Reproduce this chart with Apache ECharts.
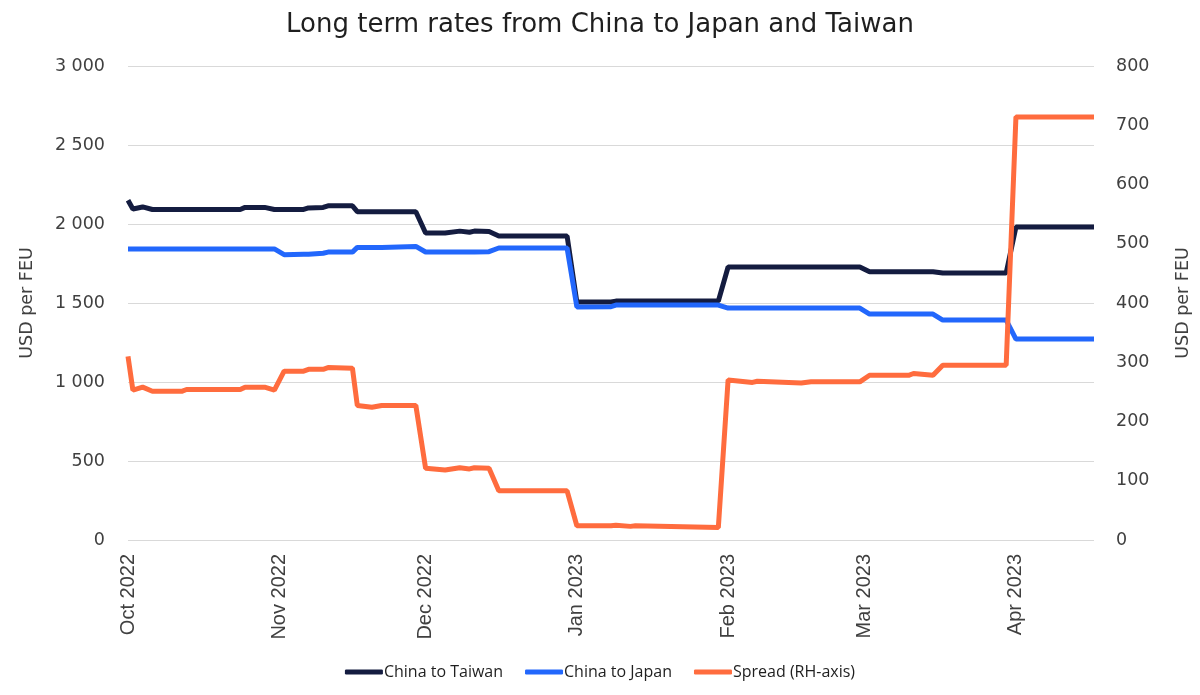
<!DOCTYPE html>
<html>
<head>
<meta charset="utf-8">
<script src="https://cdn.jsdelivr.net/npm/echarts@6/dist/echarts.min.js"></script>
<style>
html,body{margin:0;padding:0;background:#fff;}
#chart{width:1200px;height:695px;}
</style>
</head>
<body>
<div id="chart"></div>
<script>
const dates = ["2022-10-01","2022-10-02","2022-10-04","2022-10-06","2022-10-12","2022-10-13","2022-10-24","2022-10-25","2022-10-29","2022-10-31",
"2022-11-02","2022-11-06","2022-11-07","2022-11-10","2022-11-11","2022-11-16","2022-11-17","2022-11-20","2022-11-22","2022-11-29",
"2022-12-01","2022-12-05","2022-12-08","2022-12-10","2022-12-11","2022-12-14","2022-12-16","2022-12-30",
"2023-01-01","2023-01-08","2023-01-09","2023-01-12","2023-01-13","2023-01-30",
"2023-02-01","2023-02-06","2023-02-07","2023-02-16","2023-02-18","2023-02-28",
"2023-03-02","2023-03-10","2023-03-11","2023-03-15","2023-03-17","2023-03-30",
"2023-04-01","2023-04-17"];
const chinaTaiwan = [2150,2095,2108,2092,2092,2092,2092,2105,2105,2092,
2092,2092,2102,2105,2115,2115,2078,2078,2078,2078,
1943,1943,1955,1948,1955,1952,1924,1924,
1506,1506,1512,1512,1512,1512,
1728,1728,1728,1728,1728,1728,
1698,1698,1698,1698,1690,1690,
1981,1981];
const chinaJapan = [1842,1842,1842,1842,1842,1842,1842,1842,1842,1842,
1806,1808,1808,1815,1822,1822,1852,1852,1852,1858,
1823,1823,1823,1823,1823,1825,1848,1848,
1475,1477,1487,1487,1487,1487,
1468,1468,1468,1468,1468,1468,
1430,1430,1430,1430,1392,1392,
1272,1272];
const spread = [310,253,258,251,251,254,254,258,258,253,
285,285,288,288,291,290,227,224,227,227,
121,118,122,120,122,121,83,83,
24,24,25,23,24,21,
270,266,268,265,267,267,
278,278,281,278,295,295,
714,714];
const monthTicks = ["2022-10-01","2022-11-01","2022-12-01","2023-01-01","2023-02-01","2023-03-01","2023-04-01"];
const monthNames = ["Jan","Feb","Mar","Apr","May","Jun","Jul","Aug","Sep","Oct","Nov","Dec"];
const xMin = "2022-10-01", xMax = "2023-04-17";

const FONT = "Open Sans";
const NUMFONT = "DejaVu Sans";
const ts = d => Date.UTC(+d.slice(0,4), +d.slice(5,7)-1, +d.slice(8,10));
const toPairs = arr => dates.map((d,i)=>[ts(d), arr[i]]);
const fmtThousands = v => { const s = String(v); return s.length > 3 ? s.slice(0, s.length-3) + " " + s.slice(-3) : s; };

const chart = echarts.init(document.getElementById('chart'));
chart.setOption({
  animation:false,
  backgroundColor:'#fff',
  textStyle:{fontFamily:FONT},
  title:{
    text:'Long term rates from China to Japan and Taiwan',
    left:'center', top:7,
    textStyle:{fontFamily:NUMFONT,fontSize:26,fontWeight:'normal',color:'#1f1f1f'}
  },
  legend:{
    bottom:10, left:'center',
    itemWidth:38, itemHeight:5, itemGap:22,
    icon:'roundRect',
    textStyle:{fontFamily:FONT,fontSize:16,color:'#1f1f1f',padding:[0,0,0,-4]},
    data:['China to Taiwan','China to Japan','Spread (RH-axis)']
  },
  grid:{left:128,right:106,top:66,bottom:155,containLabel:false},
  xAxis:{
    type:'value',
    min:ts(xMin), max:ts(xMax),
    axisLine:{show:false},
    axisTick:{show:false},
    splitLine:{show:false},
    axisLabel:{
      customValues: monthTicks.map(ts),
      rotate:90, margin:14,
      fontFamily:'Liberation Sans', fontSize:20, color:'#404040',
      formatter: v => { const d = new Date(v); return monthNames[d.getUTCMonth()] + ' ' + d.getUTCFullYear(); }
    }
  },
  yAxis:[{
    type:'value', min:0, max:3000, interval:500,
    name:'USD per FEU', nameLocation:'middle', nameGap:92, nameRotate:90,
    nameTextStyle:{fontFamily:NUMFONT,fontSize:17.5,color:'#404040'},
    axisLine:{show:false}, axisTick:{show:false},
    axisLabel:{margin:23,fontFamily:NUMFONT,fontSize:17.5,color:'#404040',formatter:fmtThousands},
    splitLine:{lineStyle:{color:'#d9d9d9',width:1}}
  },{
    type:'value', min:0, max:800, interval:100,
    name:'USD per FEU', nameLocation:'middle', nameGap:80, nameRotate:90,
    nameTextStyle:{fontFamily:NUMFONT,fontSize:17.5,color:'#404040'},
    axisLine:{show:false}, axisTick:{show:false},
    axisLabel:{margin:22,fontFamily:NUMFONT,fontSize:17.5,color:'#404040'},
    splitLine:{show:false}
  }],
  series:[{
    name:'China to Taiwan', type:'line', yAxisIndex:0, data:toPairs(chinaTaiwan),
    showSymbol:false, symbol:'none', lineStyle:{color:'#141c40',width:5}, itemStyle:{color:'#141c40'}
  },{
    name:'China to Japan', type:'line', yAxisIndex:0, data:toPairs(chinaJapan),
    showSymbol:false, symbol:'none', lineStyle:{color:'#2267fc',width:5}, itemStyle:{color:'#2267fc'}
  },{
    name:'Spread (RH-axis)', type:'line', yAxisIndex:1, data:toPairs(spread),
    showSymbol:false, symbol:'none', lineStyle:{color:'#ff6c3e',width:5}, itemStyle:{color:'#ff6c3e'}
  }]
});
</script>
</body>
</html>
